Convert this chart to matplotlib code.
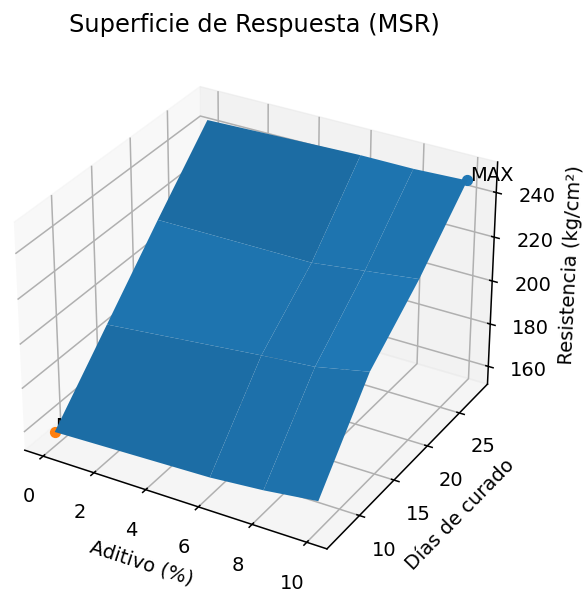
import numpy as np
import matplotlib
matplotlib.use('Agg')
import matplotlib.pyplot as plt

aditivo = [0, 6, 8, 10]
dias = [7, 14, 21, 28]
resistencia = [
    [158, 160, 162, 165],
    [187, 194, 196, 201],
    [216, 216, 219, 222],
    [244, 246, 246, 247],
]
max_punto = (10, 28, 247)
min_punto = (0, 7, 158)

X, Y = np.meshgrid(aditivo, dias)
Z = np.array(resistencia)

plt.rcParams['font.size'] = 14
plt.rcParams['axes.linewidth'] = 1.1
plt.rcParams['grid.linewidth'] = 1.1
plt.rcParams['xtick.major.width'] = 1.1
plt.rcParams['ytick.major.width'] = 1.1

fig = plt.figure(figsize=(5.88, 5.99), dpi=100)
ax = fig.add_subplot(111, projection='3d', position=[-0.027, 0.027, 0.915, 0.898])
ax.plot_surface(X, Y, Z)
ax.scatter(*max_punto, s=50)
ax.scatter(*min_punto, s=50)
ax.text(max_punto[0] + 0.1, max_punto[1], max_punto[2], 'MAX')
ax.text(*min_punto, 'MIN')
fig.text(0.432, 0.958, 'Superficie de Respuesta (MSR)', ha='center', va='center', fontsize=17.4)
ax.tick_params(axis='both', pad=8)
ax.tick_params(axis='z', pad=10)
ax.set_xlabel('Aditivo (%)', labelpad=12)
ax.set_ylabel('Días de curado', labelpad=12)
ax.set_zlabel('Resistencia (kg/cm²)', labelpad=14)
fig.savefig('out.png', dpi=100)
